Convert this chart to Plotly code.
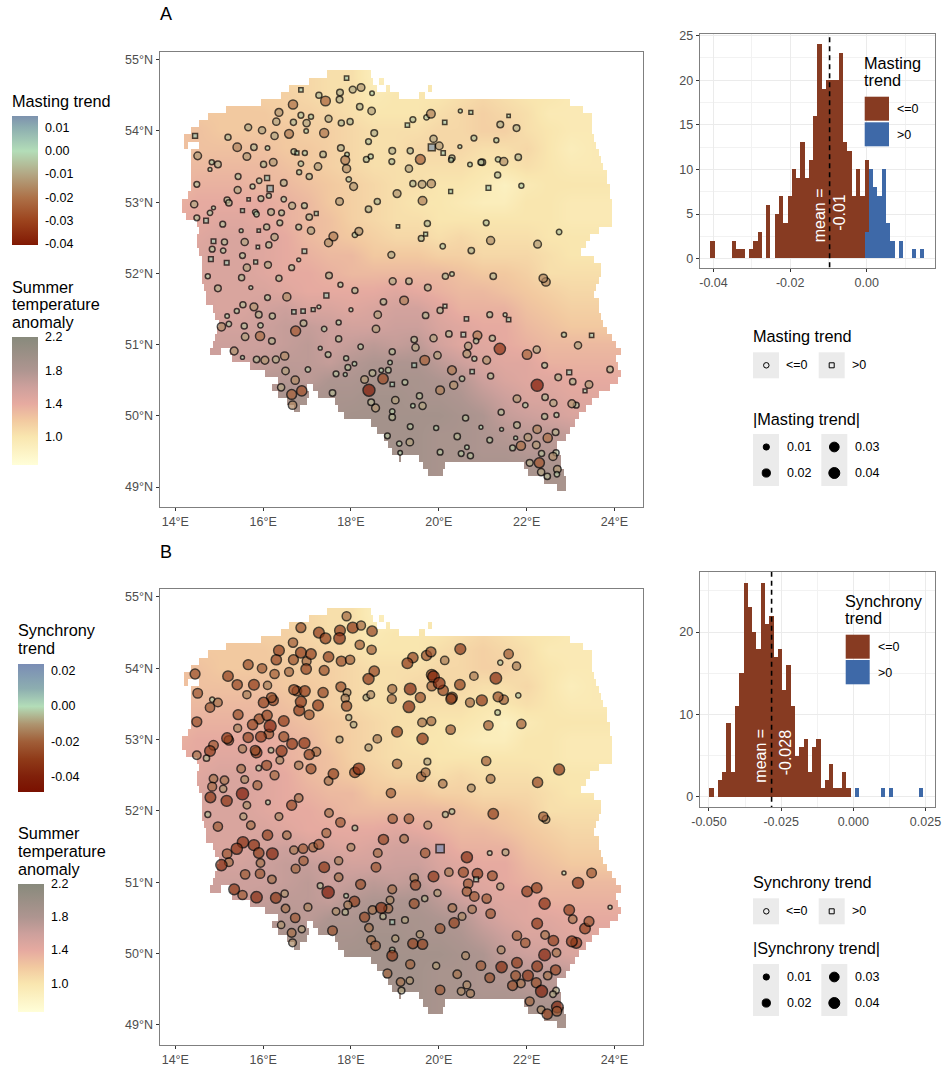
import math
import plotly.graph_objects as go

W, H = 944, 1067

# ---------- Summer temperature anomaly ----------
grid_lon = [14 + 0.5 * i for i in range(21)]
grid_lat = [55.0, 54.75, 54.5, 54.25, 54.0, 53.75, 53.5, 53.25, 53.0, 52.75, 52.5, 52.25, 52.0,
            51.75, 51.5, 51.25, 51.0, 50.75, 50.5, 50.25, 50.0, 49.75, 49.5, 49.25, 49.0]
anomaly = [
 [1.15,1.15,1.15,1.15,1.15,1.1,1.1,1.05,1.05,0.9,0.9,0.9,1.0,1.0,1.0,1.0,1.0,1.0,1.0,1.0,1.0],
 [1.15,1.15,1.15,1.15,1.15,1.1,1.1,1.05,1.05,0.9,0.9,0.9,1.0,1.0,1.0,1.0,1.0,1.0,1.0,1.0,1.0],
 [1.2,1.2,1.2,1.2,1.15,1.15,1.1,1.05,1.05,0.95,1.0,1.0,1.0,1.05,1.1,1.05,1.0,1.0,0.95,1.0,1.0],
 [1.2,1.2,1.2,1.2,1.2,1.15,1.15,1.1,1.05,1.0,1.0,1.0,1.05,1.1,1.15,1.1,1.05,0.95,0.95,0.95,0.95],
 [1.25,1.25,1.2,1.2,1.2,1.2,1.15,1.15,1.1,1.05,1.05,1.05,1.1,1.1,1.15,1.15,1.05,1.0,0.95,0.95,0.95],
 [1.25,1.25,1.25,1.25,1.25,1.2,1.2,1.15,1.1,1.05,1.05,1.1,1.1,1.1,1.05,1.05,1.1,1.0,0.9,0.95,0.95],
 [1.3,1.3,1.3,1.3,1.3,1.25,1.2,1.15,1.1,1.05,1.05,1.05,1.05,1.05,1.0,1.0,1.05,1.0,0.95,0.95,0.95],
 [1.3,1.35,1.35,1.35,1.3,1.3,1.25,1.2,1.15,1.1,1.05,1.05,1.0,1.0,0.95,0.85,0.95,1.0,1.0,1.0,1.0],
 [1.35,1.4,1.4,1.4,1.4,1.35,1.3,1.2,1.15,1.1,1.05,1.0,1.0,0.95,0.9,0.9,1.0,1.0,0.95,0.95,0.95],
 [1.4,1.4,1.45,1.45,1.4,1.35,1.3,1.25,1.15,1.1,1.05,1.05,1.0,1.0,1.0,1.0,1.0,1.0,0.95,0.95,0.95],
 [1.45,1.45,1.5,1.5,1.45,1.4,1.3,1.25,1.2,1.15,1.1,1.1,1.05,1.1,1.05,1.05,1.05,1.0,1.0,1.0,1.0],
 [1.5,1.5,1.5,1.5,1.45,1.4,1.35,1.3,1.3,1.2,1.2,1.2,1.15,1.15,1.1,1.1,1.1,1.05,1.0,1.0,1.0],
 [1.5,1.5,1.5,1.5,1.45,1.4,1.4,1.35,1.3,1.3,1.3,1.3,1.3,1.25,1.2,1.2,1.15,1.05,1.05,1.05,1.05],
 [1.5,1.5,1.5,1.5,1.5,1.45,1.4,1.4,1.4,1.4,1.45,1.4,1.35,1.3,1.3,1.25,1.2,1.15,1.1,1.1,1.1],
 [1.55,1.55,1.5,1.5,1.55,1.6,1.5,1.5,1.45,1.5,1.55,1.55,1.45,1.35,1.35,1.35,1.25,1.2,1.15,1.15,1.15],
 [1.6,1.6,1.55,1.55,1.6,1.65,1.65,1.6,1.55,1.55,1.6,1.6,1.5,1.45,1.4,1.4,1.3,1.25,1.2,1.2,1.2],
 [1.6,1.6,1.6,1.6,1.6,1.65,1.7,1.6,1.65,1.7,1.65,1.7,1.55,1.45,1.45,1.4,1.35,1.3,1.3,1.3,1.3],
 [1.6,1.6,1.6,1.6,1.65,1.7,1.7,1.65,1.75,1.8,1.8,1.8,1.7,1.6,1.5,1.45,1.45,1.35,1.35,1.35,1.35],
 [1.65,1.65,1.65,1.65,1.75,1.75,1.7,1.8,1.8,1.85,1.85,1.85,1.8,1.75,1.6,1.5,1.45,1.45,1.4,1.4,1.4],
 [1.75,1.75,1.75,1.75,1.75,1.85,1.85,1.85,1.85,1.9,1.9,1.85,1.85,1.8,1.7,1.6,1.5,1.5,1.45,1.45,1.45],
 [1.85,1.85,1.85,1.85,1.85,1.85,1.85,1.85,1.9,1.9,1.9,1.9,1.9,1.85,1.8,1.65,1.6,1.55,1.5,1.5,1.5],
 [1.85,1.85,1.85,1.85,1.85,1.85,1.85,1.9,1.9,1.9,1.9,1.9,1.85,1.85,1.8,1.75,1.7,1.7,1.65,1.65,1.65],
 [1.85,1.85,1.85,1.85,1.85,1.85,1.9,1.95,1.95,1.9,1.9,1.9,1.85,1.85,1.8,1.8,1.75,1.75,1.75,1.75,1.75],
 [1.85,1.85,1.85,1.85,1.85,1.85,1.9,1.95,1.95,1.9,1.9,1.9,1.85,1.85,1.85,1.85,1.85,1.85,1.85,1.85,1.85],
 [1.85,1.85,1.85,1.85,1.85,1.85,1.9,1.95,1.95,1.9,1.9,1.9,1.85,1.85,1.85,1.85,1.85,1.85,1.85,1.85,1.85],
]

# Land extent of each 0.1 degree raster row: latitude -> (west, east) longitude spans
land_rows = {
 54.8:[(17.45,18.44)], 54.7:[(17.07,18.51),(18.66,18.75)], 54.6:[(16.6,18.59),(18.82,18.89),(19.76,19.84)],
 54.5:[(16.42,19.12),(19.54,19.69)], 54.4:[(15.97,23.0)], 54.3:[(15.13,23.3)], 54.2:[(14.75,23.48)],
 54.1:[(14.56,23.51)], 54.0:[(14.37,23.52)], 53.9:[(14.18,23.54)], 53.8:[(14.22,14.3),(14.53,23.6)],
 53.7:[(14.33,23.64)], 53.6:[(14.33,23.71)], 53.5:[(14.37,23.75)], 53.4:[(14.37,23.83)], 53.3:[(14.37,23.86)],
 53.2:[(14.33,23.9)], 53.1:[(14.3,23.92)], 53.0:[(14.14,23.94)], 52.9:[(14.14,23.94)], 52.8:[(14.26,23.95)],
 52.7:[(14.49,23.95)], 52.6:[(14.56,23.64)], 52.5:[(14.52,23.45)], 52.4:[(14.52,23.33)], 52.3:[(14.56,23.26)],
 52.2:[(14.6,23.56)], 52.1:[(14.6,23.71)], 52.0:[(14.6,23.71)], 51.9:[(14.6,23.67)], 51.8:[(14.64,23.6)],
 51.7:[(14.68,23.56)], 51.6:[(14.72,23.64)], 51.5:[(14.83,23.67)], 51.4:[(14.9,23.71)], 51.3:[(14.98,23.75)],
 51.2:[(14.94,23.86)], 51.1:[(14.9,23.94)], 51.0:[(14.87,24.05)], 50.9:[(14.8,15.06),(15.25,24.17)],
 50.8:[(15.32,24.04)], 50.7:[(15.7,24.09)], 50.6:[(16.04,24.13)], 50.5:[(16.35,24.1)],
 50.4:[(16.2,17.0),(17.15,23.9)], 50.3:[(16.35,17.07),(17.26,23.67)], 50.2:[(16.55,17.0),(17.64,23.48)],
 50.1:[(16.69,16.84),(17.71,23.33)], 50.0:[(17.83,23.22)], 49.9:[(18.47,23.1)], 49.8:[(18.59,22.99)],
 49.7:[(18.74,22.88)], 49.6:[(18.85,22.72)], 49.5:[(18.93,22.69)], 49.4:[(19.08,19.13),(19.57,22.8)],
 49.3:[(19.65,20.16),(21.93,22.8)], 49.2:[(19.73,20.11),(22.04,22.84)], 49.1:[(22.38,22.92)], 49.0:[(22.69,22.92)],
}

# ---------- Masting trend per site: (lon, lat, trend) ----------
masting_nw = [
(14.45,53.93,.005),(14.51,53.65,-.012),(14.83,53.56,-.003),(14.79,53.46,-.001),(14.97,53.53,-.008),(15.2,53.91,-.006),
(15.41,53.77,-.016),(15.66,54.05,-.009),(15.79,53.77,-.007),(15.63,53.64,-.012),(15.975,54.01,-.01),(16.1,53.76,-.002),
(16.26,53.93,-.01),(16.01,53.53,-.006),(16.23,53.56,-.012),(15.43,53.36,-.005),(14.49,53.25,-.005),(14.43,52.97,-.01),
(14.49,52.78,-.005),(14.79,52.85,-.004),(14.87,52.92,-.001),(14.7,52.74,.004),(15.08,52.69,-.005),(15.18,53.03,-.006),
(15.22,52.99,-.007),(15.42,53.17,-.009),(15.76,53.22,-.003),(15.91,53.3,-.004),(16.09,53.34,.005),(16.16,53.19,.01),
(16.47,53.27,-.008),(16.13,53.09,-.003),(15.95,53.05,-.005),(16.47,53.04,-.004),(15.67,53.04,.001),(15.53,52.88,.002),
(15.82,52.86,-.004),(15.85,52.83,-.004),(16.18,52.86,-.008),(16.42,52.85,-.005),(16.66,52.95,-.009),(16.94,52.95,-.005),
(16.7,53.71,-.005),(16.77,53.69,.002),(16.95,53.69,-.003),(16.86,53.54,-.004),(16.82,53.42,-.003),(17.05,53.36,-.006),
(17.25,53.5,-.011),(17.365,53.67,-.007),(16.59,53.96,-.018),(17.39,53.97,-.019),(16.98,54.0,-.002),(16.3,54.13,-.01),
(16.69,54.12,-.006),(16.99,54.11,-.01),(17.49,54.17,-.009),(17.78,54.11,-.006),(17.98,54.13,-.006),(16.36,54.26,-.013),
(16.86,54.22,-.005),(17.09,54.2,-.003),(16.68,54.37,-.02),(16.86,54.575,.003),(17.27,54.5,-.006),(17.42,54.42,-.023),
(17.75,54.54,-.008),(17.74,54.44,-.008),(17.9,54.74,.003),(18.04,54.58,-.009),(18.23,54.61,-.012),(18.48,54.53,-.002),
(18.2,54.34,-.007),(18.47,54.28,-.011),(18.53,53.97,-.008),(18.4,53.85,-.005),(17.77,53.76,-.008),(17.91,53.67,-.002),
(17.87,53.59,-.018),(17.9,53.47,-.014),(18.35,53.6,-.005),(18.45,53.64,-.003),(17.95,53.32,-.004),(18.06,53.22,-.013),
(18.94,53.72,-.008),(18.93,53.57,-.005),(19.05,53.12,-.013),(18.6,53.01,-.006),(17.74,53.01,-.012),(18.4,52.9,-.007),
(17.05,52.79,-.007),(17.21,52.84,.002),(16.81,52.65,-.005),(17.09,52.6,-.01),(16.08,52.65,-.006),(16.38,52.71,-.005),
(15.5,52.6,-.001),(15.9,52.6,.001),(16.26,52.51,-.01),(15.58,52.44,-.01),(15.12,52.44,-.006),(14.87,52.45,.004),
(14.84,52.34,-.005),(15.09,52.32,-.004),(16.13,52.4,-.006),(15.88,52.37,.001),(15.53,52.25,-.005),(14.81,52.2,.004),
(15.17,52.15,.004),(15.83,52.16,.002),(15.63,52.08,-.01),(16.11,52.12,-.009),(16.65,52.08,-.005),(16.81,52.19,-.001),
(16.94,52.31,.004),(17.49,52.43,-.014),(17.6,52.52,-.018),(18.09,52.54,-.004),(18.18,52.59,-.013),(18.92,52.26,-.009),
(19.07,52.66,.001),(15.51,51.94,-.006),(14.74,51.96,-.003),(16.36,51.93,-.006),(17.5,51.97,-.008),
]
masting_sw = [
(14.97,51.79,-.008),(15.72,51.8,-.001),(16.1,51.66,-.005),(16.54,51.67,-.014),(17.76,51.84,-.003),(18.09,51.76,-.006),
(18.95,51.89,-.009),(17.44,51.69,.005),(18.74,51.6,-.007),(15.54,51.56,-.006),(15.79,51.53,-.013),(15.9,51.42,-.008),
(16.21,51.4,-.006),(15.18,51.4,-.002),(15.4,51.47,-.003),(16.7,51.46,.003),(16.91,51.47,.003),(17.14,51.49,.002),
(17.27,51.53,-.001),(18.0,51.49,-.001),(18.61,51.42,-.011),(15.22,51.29,-.004),(15.05,51.25,-.015),(15.57,51.26,-.006),
(15.94,51.27,-.004),(16.92,51.3,-.008),(16.74,51.19,-.025),(17.39,51.22,-.004),(17.72,51.31,-.003),(18.57,51.22,-.011),
(15.59,51.11,-.011),(15.93,51.12,-.02),(16.2,51.05,-.008),(17.72,51.08,-.006),(18.22,50.97,-.004),(17.3,50.95,-.001),
(17.48,50.86,-.005),(18.94,50.9,-.006),(15.34,50.91,-.013),(15.53,50.82,-.001),(15.85,50.79,-.007),(16.04,50.78,-.013),
(16.29,50.79,-.009),(16.49,50.84,-.015),(16.51,50.63,-.011),(17.02,50.65,-.004),(17.89,50.81,-.003),(18.08,50.73,-.002),
(17.93,50.68,-.005),(17.66,50.59,-.005),(17.87,50.58,-.001),(18.49,50.6,-.008),(18.69,50.64,-.002),(18.85,50.64,-.005),
(18.89,50.75,-.002),(18.31,50.51,-.012),(18.73,50.52,-.028),(18.94,50.44,.003),(18.41,50.36,-.04),(16.73,50.5,-.015),
(16.41,50.4,-.01),(16.65,50.3,-.024),(16.88,50.35,-.027),(16.67,50.15,-.016),(17.58,50.32,-.007),(18.46,50.19,-.008),
(18.56,50.11,-.013),(19.01,50.22,-.011),(18.94,50.06,-.004),(18.94,49.98,-.007),(18.83,49.72,-.005),(19.1,49.61,-.004),
(19.12,49.48,-.002),
]
masting_se = [
(19.32,51.89,-.007),(19.75,51.8,-.008),(20.15,51.96,-.006),(20.3,51.99,-.002),(21.24,51.96,-.007),(22.44,51.88,-.016),
(22.38,51.93,-.016),(19.21,51.62,-.017),(19.7,51.41,-.007),(20.03,51.48,-.006),(20.14,51.54,.002),(20.63,51.36,.003),
(21.16,51.42,-.005),(21.51,51.42,-.001),(21.59,51.35,.003),(20.23,51.15,-.007),(20.56,51.14,.004),(20.88,51.13,-.018),
(21.22,51.09,-.006),(19.44,51.07,-.007),(19.47,50.96,-.01),(19.88,51.09,-.01),(20.67,50.98,-.011),(20.85,51.05,-.004),
(20.64,50.87,-.013),(19.97,50.85,-.011),(20.81,50.8,-.003),(21.09,50.78,-.013),(21.39,50.94,-.034),(22.01,50.86,-.022),
(22.23,50.93,-.01),(22.85,51.14,-.003),(23.48,51.13,.003),(23.17,50.99,-.01),(22.41,50.71,-.005),(19.44,50.71,.004),
(19.68,50.78,-.023),(20.3,50.64,-.018),(20.76,50.62,.003),(20.53,50.52,-.004),(21.18,50.56,-.006),(20.34,50.43,-.014),
(20.03,50.36,-.017),(19.23,50.47,-.005),(19.56,50.28,-.006),(19.41,50.14,-.002),(19.63,50.14,-.01),(22.97,50.61,.005),
(22.72,50.54,-.008),(23.05,50.48,-.007),(23.9,50.65,-.007),(23.42,50.44,-.012),(23.33,50.35,.002),(22.24,50.43,-.04),
(21.78,50.24,-.012),(21.97,50.15,-.004),(22.42,50.26,-.007),(22.61,50.18,-.01),(23.13,50.15,-.005),(23.03,50.17,-.013),
(21.42,50.05,-.006),(22.41,49.99,-.006),(22.68,50.01,-.003),(20.61,49.97,-.006),(19.35,49.85,-.005),(19.94,49.83,-.003),
(20.96,49.84,-.001),(21.43,49.81,-.001),(21.78,49.87,-.008),(22.24,49.81,-.016),(22.66,49.77,-.008),(22.48,49.69,-.02),
(22.03,49.7,-.012),(21.75,49.69,-.001),(20.42,49.71,-.007),(21.16,49.66,-.005),(20.64,49.56,-.002),(19.34,49.63,-.011),
(22.22,49.59,-.012),(21.87,49.58,-.02),(21.68,49.55,-.005),(20.03,49.49,-.005),(20.51,49.47,-.005),(20.72,49.44,-.006),
(22.67,49.48,-.006),(22.34,49.47,-.006),(22.6,49.43,-.014),(22.07,49.34,-.009),(22.29,49.34,-.026),(22.33,49.21,-.01),
(22.7,49.25,-.012),(22.69,49.18,-.004),(22.47,49.15,-.007),
]
masting_ne = [
(19.41,54.16,-.005),(19.72,54.19,-.004),(19.82,54.24,-.017),(19.285,54.08,.003),(20.135,54.12,.003),(20.49,54.28,-.001),
(20.73,54.26,.002),(21.59,54.21,.001),(21.4,54.09,-.008),(21.77,54.04,-.008),(19.88,53.89,-.01),(20.01,53.79,-.012),
(19.84,53.77,.014),(20.1,53.69,.003),(20.8,53.9,-.005),(21.31,53.87,-.003),(20.48,53.78,-.001),(19.35,53.72,-.006),
(19.58,53.6,-.024),(20.3,53.62,-.006),(20.28,53.59,-.003),(20.71,53.53,-.002),(20.99,53.56,-.008),(20.96,53.56,-.006),
(21.35,53.6,-.004),(21.48,53.57,-.014),(21.81,53.63,-.007),(21.34,53.38,-.006),(19.32,53.47,-.01),(19.41,53.26,-.006),
(19.62,53.25,-.012),(19.83,53.26,-.015),(19.63,53.02,-.017),(20.27,53.15,.002),(21.13,53.2,.004),(21.88,53.23,-.003),
(19.74,52.7,-.006),(21.08,52.71,-.005),(19.6,52.49,-.005),(19.7,52.55,.002),(22.74,52.58,-.004),(21.18,52.46,-.014),
(22.25,52.41,-.012),(20.09,52.38,-.004),(20.74,52.32,-.007),
]

# ---------- Synchrony trend per site: (lon, lat, trend) ----------
synchrony_nw = [
(17.9,54.73,-.018),(16.86,54.57,-.024),(17.27,54.5,-.03),(17.42,54.42,-.03),(17.75,54.53,-.03),(17.74,54.42,-.036),
(18.04,54.57,-.032),(18.23,54.6,-.018),(18.48,54.52,-.027),(18.2,54.33,-.02),(18.47,54.26,-.02),(16.68,54.36,-.02),
(16.36,54.25,-.03),(16.3,54.12,-.027),(16.69,54.12,-.024),(16.99,54.1,-.018),(16.86,54.22,-.03),(17.09,54.2,-.028),
(16.98,53.99,-.028),(17.49,54.16,-.028),(17.78,54.1,-.025),(17.98,54.12,-.02),(16.59,53.95,-.018),(17.39,53.97,-.024),
(16.26,53.92,-.02),(15.975,54.0,-.021),(15.66,54.05,-.024),(15.2,53.89,-.028),(14.45,53.92,-.024),(18.53,53.96,-.027),
(18.4,53.85,-.032),(15.41,53.77,-.026),(15.79,53.77,-.03),(16.1,53.76,-.014),(15.63,53.63,-.014),(14.51,53.65,-.022),
(14.84,53.56,-.003),(14.97,53.52,-.017),(14.79,53.45,-.021),(16.23,53.55,-.026),(16.19,53.59,-.024),(16.01,53.52,-.028),
(16.77,53.68,-.022),(16.7,53.7,-.026),(16.95,53.68,-.03),(17.365,53.66,-.026),(17.91,53.66,-.012),(17.77,53.74,-.024),
(17.87,53.58,-.014),(17.9,53.47,-.026),(16.82,53.41,-.03),(16.86,53.53,-.032),(17.05,53.35,-.022),(17.25,53.48,-.03),
(18.35,53.59,-.007),(18.45,53.63,-.012),(18.94,53.71,-.018),(18.93,53.57,-.018),(17.95,53.31,-.005),(18.06,53.21,-.007),
(15.43,53.35,-.024),(14.49,53.25,-.024),(15.42,53.16,-.013),(15.91,53.29,-.025),(16.09,53.34,-.027),(15.76,53.21,-.027),
(16.13,53.08,-.022),(16.16,53.19,-.04),(15.95,53.04,-.03),(16.47,53.26,-.03),(16.47,53.04,-.024),(15.66,53.03,-.026),
(15.22,52.99,-.021),(15.18,53.02,-.03),(14.49,52.78,-.016),(14.87,52.92,-.022),(14.79,52.84,-.03),(14.71,52.74,-.006),
(15.53,52.87,-.014),(15.85,52.82,-.03),(15.82,52.85,-.024),(16.18,52.85,-.004),(16.42,52.84,-.032),(16.66,52.94,-.03),
(16.94,52.95,-.032),(17.21,52.83,-.018),(17.05,52.79,-.026),(16.38,52.71,-.012),(16.08,52.64,-.024),(15.5,52.59,-.016),
(15.9,52.6,-.004),(16.26,52.5,-.018),(16.81,52.64,-.015),(17.09,52.59,-.024),(17.74,53.0,-.008),(18.4,52.89,-.009),
(18.6,53.01,-.015),(19.05,53.11,-.03),(19.05,52.66,-.02),(17.49,52.42,-.016),(17.6,52.52,-.028),(18.09,52.54,-.028),
(18.18,52.59,-.036),(18.91,52.25,-.02),(14.87,52.45,-.016),(15.12,52.43,-.016),(14.84,52.34,-.018),(15.09,52.31,-.01),
(15.58,52.44,-.012),(15.87,52.36,-.018),(15.53,52.24,-.042),(14.8,52.19,-.03),(15.17,52.14,-.032),(15.63,52.08,-.011),
(16.11,52.12,-.002),(16.81,52.18,-.016),(16.65,52.08,-.025),(14.74,51.95,-.005),(15.55,51.92,-.009),(16.36,51.92,-.012),
(17.5,51.97,-.016),(14.97,51.78,-.02),(15.72,51.8,-.016),(17.76,51.84,-.021),(18.09,51.76,-.004),(18.95,51.89,-.02),
]
synchrony_ne = [
(19.41,54.15,-.027),(19.285,54.07,-.03),(19.72,54.18,-.025),(19.82,54.23,-.025),(20.135,54.11,-.015),(20.49,54.27,-.031),
(21.59,54.2,-.021),(21.4,54.08,-.003),(21.77,54.03,-.014),(21.3,53.86,-.036),(20.8,53.89,-.015),(19.84,53.91,-.03),
(19.88,53.88,-.037),(19.84,53.75,-.022),(20.1,53.69,-.027),(20.01,53.79,-.037),(20.48,53.77,-.028),(19.35,53.71,-.038),
(19.58,53.59,-.025),(20.3,53.59,-.03),(20.28,53.57,-.028),(20.71,53.52,-.018),(20.98,53.55,-.032),(21.48,53.56,-.02),
(21.35,53.6,-.024),(21.81,53.62,-.003),(21.34,53.38,-.004),(19.32,53.46,-.037),(19.62,53.24,-.017),(19.83,53.26,-.018),
(20.27,53.14,-.021),(21.13,53.2,-.021),(21.88,53.22,-.02),(19.63,53.01,-.033),(19.74,52.69,-.008),(21.08,52.7,-.02),
(19.6,52.48,-.02),(19.7,52.54,-.018),(22.74,52.58,-.032),(21.18,52.45,-.017),(22.25,52.4,-.026),(20.09,52.38,-.016),
(20.74,52.32,-.012),(20.15,51.95,-.005),(20.3,51.99,-.004),(21.24,51.96,-.028),(22.44,51.88,-.012),(22.38,51.92,-.02),
(19.32,51.89,-.021),(19.75,51.8,-.012),
]
synchrony_se = [
(19.21,51.61,-.016),(19.69,51.41,-.021),(20.03,51.47,.023),(20.64,51.35,-.033),(21.16,51.41,-.002),(21.52,51.42,-.008),
(20.23,51.14,-.015),(20.56,51.14,-.025),(20.88,51.12,-.028),(20.85,51.04,.004),(21.22,51.09,-.023),(19.44,51.06,-.015),
(19.47,50.96,-.026),(19.88,51.08,-.03),(20.67,50.98,-.021),(19.97,50.85,-.009),(19.68,50.77,-.006),(19.44,50.7,-.024),
(20.64,50.87,-.02),(20.81,50.8,-.021),(21.09,50.77,-.02),(21.4,50.94,-.009),(22.01,50.87,-.028),(22.23,50.92,-.028),
(22.85,51.13,-.001),(23.48,51.13,-.022),(23.17,50.99,-.032),(22.41,50.7,-.034),(20.31,50.64,-.016),(20.76,50.62,-.015),
(20.53,50.52,-.012),(21.18,50.56,-.021),(20.35,50.43,-.027),(20.03,50.35,-.022),(19.23,50.47,-.008),(19.57,50.27,-.01),
(19.41,50.14,-.027),(19.63,50.13,-.027),(23.9,50.65,-.001),(22.97,50.61,-.029),(23.05,50.48,-.016),(23.33,50.35,-.029),
(23.42,50.45,-.024),(22.24,50.42,-.03),(21.78,50.25,-.02),(21.97,50.15,-.021),(22.42,50.26,-.016),(22.61,50.18,-.028),
(23.13,50.15,-.031),(23.03,50.17,-.03),(21.42,50.05,-.012),(22.41,49.98,-.038),(22.68,50.01,-.016),(20.61,49.97,-.012),
(19.35,49.85,-.019),(19.94,49.83,-.009),(20.96,49.83,-.021),(21.43,49.81,-.034),(21.78,49.87,-.029),(22.24,49.82,-.03),
(22.66,49.77,-.026),(22.48,49.69,-.016),(22.03,49.69,-.031),(21.75,49.69,-.023),(20.42,49.71,-.016),(21.16,49.66,-.023),
(20.64,49.56,-.012),(19.34,49.62,-.01),(19.13,49.6,-.016),(22.22,49.59,-.024),(21.87,49.58,-.016),(21.68,49.55,-.024),
(20.03,49.49,-.021),(20.51,49.47,-.012),(20.72,49.44,-.014),(22.34,49.47,-.04),(22.67,49.48,-.007),(22.6,49.43,-.007),
(22.07,49.33,-.018),(22.7,49.25,-.037),(22.33,49.21,-.012),(22.69,49.19,-.022),(22.47,49.15,-.027),(19.15,49.48,-.008),
]
synchrony_sw = [
(16.1,51.66,-.027),(16.54,51.66,-.016),(17.44,51.69,-.018),(18.74,51.6,-.026),(15.54,51.56,-.034),(15.79,51.52,-.032),
(15.4,51.47,-.034),(15.18,51.4,-.022),(15.9,51.41,-.028),(16.21,51.4,-.037),(16.7,51.45,-.015),(16.91,51.47,-.02),
(17.14,51.49,-.018),(17.27,51.53,-.023),(18.0,51.49,-.012),(18.61,51.41,-.017),(15.22,51.28,-.017),(15.05,51.24,-.034),
(15.94,51.27,-.016),(16.92,51.3,-.02),(16.74,51.19,-.018),(17.39,51.21,-.03),(17.72,51.3,-.014),(18.57,51.21,-.022),
(15.59,51.11,-.021),(15.93,51.12,-.021),(16.2,51.04,-.016),(17.72,51.07,-.016),(18.22,50.97,-.024),(17.3,50.95,-.005),
(17.48,50.86,-.042),(18.94,50.9,-.017),(15.34,50.9,-.03),(15.53,50.82,-.02),(15.85,50.79,-.035),(16.29,50.78,-.03),
(16.49,50.84,-.01),(16.51,50.63,-.016),(17.02,50.65,-.013),(17.89,50.81,-.002),(18.08,50.73,-.028),(17.93,50.68,-.014),
(17.66,50.59,-.011),(17.87,50.58,-.006),(18.49,50.61,-.016),(18.85,50.63,-.018),(18.69,50.64,-.032),(18.89,50.75,-.012),
(18.31,50.51,-.025),(18.73,50.52,-.006),(18.94,50.44,.004),(18.41,50.36,-.016),(16.73,50.5,-.021),(16.41,50.4,-.01),
(16.65,50.29,-.017),(16.88,50.34,-.009),(16.67,50.15,-.012),(17.58,50.32,-.022),(18.46,50.19,-.017),(18.56,50.11,-.022),
(19.01,50.21,-.009),(18.94,50.05,-.004),(18.94,49.97,-.03),(18.83,49.72,-.018),
]

# ---------- Histograms ----------
masting_bin_start, masting_bin_width = -0.04087, 0.001117
masting_neg = [2,0,0,0,0,2,1,1,0,1,2,3,0,6,0,5,7,4,7,10,9,13,9,11,16,24,19,20,20,20,23,13,12,7,10,7,8]
masting_pos = [0]*36 + [3,10,8,7,10,4,2,0,2,0,0,1,0,1]
masting_mean = -0.0097
synchrony_bin_start, synchrony_bin_width = -0.05, 0.001484
synchrony_neg = [1,0,2,3,9,3,11,15,26,23,20,18,26,21,22,17,18,13,16,11,5,6,7,3,6,7,1,2,4,1,1,3,1]
synchrony_pos = [0]*34 + [1,0,0,0,0,0,1,0,1,0,0,0,0,0,0,1]
synchrony_mean = -0.0283

lon_ticks, lon_text = [14,16,18,20,22,24], ["14°E","16°E","18°E","20°E","22°E","24°E"]
lat_ticks, lat_text = [49,50,51,52,53,54,55], ["49°N","50°N","51°N","52°N","53°N","54°N","55°N"]
size_breaks = [0.01, 0.02, 0.03, 0.04]
masting_bar_ticks = [0.01, 0, -0.01, -0.02, -0.03, -0.04]
masting_bar_text = ["0.01", "0.00", "-0.01", "-0.02", "-0.03", "-0.04"]
synchrony_bar_ticks = [0.02, 0, -0.02, -0.04]
synchrony_bar_text = ["0.02", "0.00", "-0.02", "-0.04"]
temp_bar_ticks = [2.2, 1.8, 1.4, 1.0]
temp_bar_text = ["2.2", "1.8", "1.4", "1.0"]

# ---------- Styles ----------
FONT = "Liberation Sans"
GREY = "#4D4D4D"
FRAME = "#7F7F7F"
BROWN, BLUE = "#873B22", "#3E69A8"
temp_min, temp_max = 0.66, 2.2
temp_scale = [[0,"#FFFED8"],[0.22,"#F9E6AF"],[0.35,"#F2C9A0"],[0.48,"#E6AAA0"],[0.61,"#CDA09C"],[0.74,"#AE9590"],[1,"#888A7C"]]
masting_stops = [(-.0403,"#7A1000"),(-.04,"#821A04"),(-.03,"#9C431D"),(-.02,"#AD7148"),(-.01,"#B3A683"),(0,"#B3DDB8"),(.01,"#8DAEB0"),(.015,"#7D92AE")]
synchrony_stops = [(-.0485,"#7A1000"),(-.04,"#80200A"),(-.03,"#8F3A18"),(-.02,"#A05E38"),(-.01,"#AE9570"),(0,"#B3DDB8"),(.01,"#8DAEB0"),(.024,"#7A8DB5")]

def trend_scale(stops):
    lo, hi = stops[0][0], stops[-1][0]
    return [[(v-lo)/(hi-lo), c] for v, c in stops]

def fx(px): return px / W
def fy(py): return 1 - py / H

fig = go.Figure()
annotations, shapes = [], []

def text(px, py, s, size=12.5, color="black", anchor="left", angle=0):
    annotations.append(dict(x=fx(px), y=fy(py), xref="paper", yref="paper", text=s, showarrow=False,
                            xanchor=anchor, yanchor="middle", textangle=angle, align="left", borderpad=0, borderwidth=0,
                            xshift=-0.5 if anchor == "left" else 0,
                            font=dict(family=FONT, size=size, color=color)))

def rect(x0, y0, x1, y1, fill, line=None):
    shapes.append(dict(type="rect", xref="paper", yref="paper", x0=fx(x0), x1=fx(x1), y0=fy(y0), y1=fy(y1),
                       fillcolor=fill, line=dict(width=0 if line is None else 1, color=line or fill)))

def glyph(kind, cx, cy, d, fill, lw):
    shapes.append(dict(type=kind, xref="paper", yref="paper", x0=fx(cx-d/2), x1=fx(cx+d/2), y0=fy(cy-d/2), y1=fy(cy+d/2),
                       fillcolor=fill, line=dict(width=lw, color="black")))

def hline(x0, x1, y, color="rgba(255,255,255,0.75)"):
    shapes.append(dict(type="line", xref="paper", yref="paper", x0=fx(x0), x1=fx(x1), y0=fy(y), y1=fy(y), line=dict(width=0.8, color=color)))

# Land mask: everything that is not in land_rows is painted white over the smooth raster
mask_lon = [round(13.6 + 0.05*i + 0.025, 3) for i in range(222)]
mask_lat = [round(55.1 - 0.1*i, 1) for i in range(65)]
mask_z = []
for la in mask_lat:
    spans = land_rows.get(la, [])
    mask_z.append([None if any(a <= lo <= b for a,b in spans) else 1 for lo in mask_lon])

def colorbar(x, y, length, vals, labels, lo, hi):
    # Bar without its own ticks; ticks on both sides and labels sit beside it, placed from the bar's value range
    for v, s in zip(vals, labels):
        py = y + (hi - v) / (hi - lo) * length
        hline(x, x+5, py); hline(x+20.7, x+25.7, py)
        text(x+33.7, py, s)
    return dict(x=fx(x), xanchor="left", xref="paper", y=fy(y), yanchor="top", yref="paper",
                lenmode="pixels", len=length, thicknessmode="pixels", thickness=25.7, outlinewidth=0, borderwidth=0,
                xpad=0, ypad=0, showticklabels=False, ticks="")

def add_map(axis, sites, stops, trend_bar, temp_bar, size0, sizeref):
    xa, ya = ("x"+axis, "y"+axis)
    fig.add_trace(go.Heatmap(x=grid_lon, y=grid_lat, z=anomaly, xaxis=xa, yaxis=ya, zsmooth="best", zmin=temp_min, zmax=temp_max,
                             colorscale=temp_scale, colorbar=temp_bar, hoverinfo="skip"))
    fig.add_trace(go.Heatmap(x=mask_lon, y=mask_lat, z=mask_z, xaxis=xa, yaxis=ya, zmin=0, zmax=1, showscale=False,
                             colorscale=[[0,"white"],[1,"white"]], hoverinfo="skip"))
    lon = [s[0] for s in sites]; lat = [s[1] for s in sites]; tr = [s[2] for s in sites]
    sizes = [(size0 + 9.5*math.sqrt(abs(t)/sizeref)) * (0.85 if t > 0 else 1) for t in tr]
    symbols = ["square" if t > 0 else "circle" for t in tr]
    fig.add_trace(go.Scatter(x=lon, y=lat, xaxis=xa, yaxis=ya, mode="markers", hoverinfo="skip",
                             marker=dict(size=sizes, symbol=symbols, color=tr, cmin=stops[0][0], cmax=stops[-1][0], colorscale=trend_scale(stops),
                                         showscale=True, colorbar=trend_bar, line=dict(color="black", width=1.5))))

add_map("", masting_nw+masting_sw+masting_se+masting_ne, masting_stops,
        colorbar(12, 116, 129, masting_bar_ticks, masting_bar_text, -0.0403, 0.015),
        colorbar(12, 337.3, 128.4, temp_bar_ticks, temp_bar_text, temp_min, temp_max), 2.4, 0.04)
add_map("2", synchrony_nw+synchrony_sw+synchrony_se+synchrony_ne, synchrony_stops,
        colorbar(18, 664, 128, synchrony_bar_ticks, synchrony_bar_text, -0.0485, 0.024),
        colorbar(18, 884, 128, temp_bar_ticks, temp_bar_text, temp_min, temp_max), 2.6, 0.042)

def add_hist(axis, start, width, neg, pos, mean, ytop):
    xa, ya = "x"+axis, "y"+axis
    cx = lambda n: [start + width*(k+0.5) for k in range(n)]
    fig.add_trace(go.Bar(x=cx(len(pos)), y=pos, width=width, xaxis=xa, yaxis=ya, marker=dict(color=BLUE, line=dict(width=0)), hoverinfo="skip", showlegend=False))
    fig.add_trace(go.Bar(x=cx(len(neg)), y=neg, width=width, xaxis=xa, yaxis=ya, marker=dict(color=BROWN, line=dict(width=0)), hoverinfo="skip", showlegend=False))
    fig.add_trace(go.Scatter(x=[mean,mean], y=[-5,ytop+5], xaxis=xa, yaxis=ya, mode="lines", hoverinfo="skip", showlegend=False,
                             line=dict(color="black", width=1.6, dash="5px,4px")))

add_hist("3", masting_bin_start, masting_bin_width, masting_neg, masting_pos, masting_mean, 25)
add_hist("4", synchrony_bin_start, synchrony_bin_width, synchrony_neg, synchrony_pos, synchrony_mean, 27)

# Headings
text(160, 14, "A", 18); text(160, 552, "B", 18)

# Colour bar titles
text(12.5, 101, "Masting trend", 16.3)
for y, s in zip([286.7,304.3,322.3], ["Summer","temperature","anomaly"]): text(12.5, y, s, 16.3)
for y, s in zip([630,648], ["Synchrony","trend"]): text(18, y, s, 16.3)
for y, s in zip([833,851,869], ["Summer","temperature","anomaly"]): text(18, y, s, 16.3)

# Histogram annotations and legends
text(819.3, 215, "mean =", 16, "white", "center", -90)
text(840, 212.7, "-0.01", 16, "white", "center", -90)
text(761, 755.7, "mean =", 16, "white", "center", -90)
text(785, 753.3, "-0.028", 16, "white", "center", -90)

text(864.3, 63.3, "Masting", 16.3); text(864.3, 80, "trend", 16.3)
rect(864.7, 96.7, 889, 120.7, BROWN); rect(864.7, 122.3, 889, 146.3, BLUE)
text(897.7, 109.3, "<=0"); text(897.7, 135, ">0")
text(845, 600.7, "Synchrony", 16.3); text(845, 618.3, "trend", 16.3)
rect(845.7, 634.7, 869.7, 658.7, BROWN); rect(845.7, 660, 869.7, 684.3, BLUE)
text(878.3, 646.7, "<=0"); text(878.3, 672.7, ">0")

# Shape and size legends
def side_legends(name, y_title, y_key, y_title2, y_row1):
    text(753.3, y_title, name, 16.3)
    rect(753, y_key-13, 779, y_key+13, "#EBEBEB"); rect(818.7, y_key-13, 844.7, y_key+13, "#EBEBEB")
    glyph("circle", 766.3, y_key, 5.5, "rgba(0,0,0,0)", 1)
    glyph("rect", 831.7, y_key, 5, "rgba(0,0,0,0)", 1)
    text(786.7, y_key, "<=0"); text(852.3, y_key, ">0")
    text(753.3, y_title2, "|" + name + "|", 16.3)
    y_row2 = y_row1 + 26
    rect(753, y_row1-13, 779, y_row2+13, "#EBEBEB"); rect(821.3, y_row1-13, 847.3, y_row2+13, "#EBEBEB")
    for v, cx, cy, lx in zip(size_breaks, [766.3,766.3,834.3,834.3], [y_row1,y_row2,y_row1,y_row2], [787.3,787.3,855.7,855.7]):
        d = 2.5 + 9.5*math.sqrt(v/0.04)
        glyph("circle", cx, cy, d-1, "black", 1)
        text(lx, cy, f"{v:.2f}")

side_legends("Masting trend", 336, 365.3, 419.3, 447)
side_legends("Synchrony trend", 882, 911.3, 948, 977)

def axis(dom, rng, **kw):
    d = dict(domain=dom, range=rng, showgrid=False, zeroline=False, showline=True, mirror=True, linecolor=FRAME, linewidth=1,
             ticks="outside", ticklen=3, tickcolor="#333333", tickwidth=1, tickfont=dict(family=FONT, size=12.5, color=GREY))
    d.update(kw); return d

def hist_grid(minor):
    return dict(showgrid=True, gridcolor="#EBEBEB", gridwidth=1.2,
                minor=dict(tickvals=minor, showgrid=True, gridcolor="#F2F2F2", gridwidth=0.7, ticks=""))

fig.update_layout(
    width=W, height=H, margin=dict(l=0, r=0, t=0, b=0, autoexpand=False), paper_bgcolor="white", plot_bgcolor="white",
    showlegend=False, barmode="stack", bargap=0, annotations=annotations, shapes=shapes,
    xaxis=axis([fx(159.5),fx(643)], [13.64,24.65], tickvals=lon_ticks, ticktext=lon_text, anchor="y"),
    yaxis=axis([fy(507),fy(51.5)], [48.72,55.115], tickvals=lat_ticks, ticktext=lat_text, anchor="x"),
    xaxis2=axis([fx(159.5),fx(643)], [13.64,24.65], tickvals=lon_ticks, ticktext=lon_text, anchor="y2"),
    yaxis2=axis([fy(1045),fy(589)], [48.717,55.112], tickvals=lat_ticks, ticktext=lat_text, anchor="x2"),
    xaxis3=axis([fx(699.7),fx(935)], [-0.0436,0.0178], tickvals=[-0.04,-0.02,0], ticktext=["-0.04","-0.02","0.00"], anchor="y3",
                **hist_grid([-0.03,-0.01,0.01])),
    yaxis3=axis([fy(268.3),fy(34.3)], [-1.08,25.15], tickvals=[0,5,10,15,20,25], ticktext=["0","5","10","15","20","25"], anchor="x3",
                **hist_grid([2.5,7.5,12.5,17.5,22.5])),
    xaxis4=axis([fx(699.7),fx(935)], [-0.0532,0.0283], tickvals=[-0.05,-0.025,0,0.025], ticktext=["-0.050","-0.025","0.000","0.025"], anchor="y4",
                **hist_grid([-0.0375,-0.0125,0.0125])),
    yaxis4=axis([fy(807),fy(572)], [-1.25,27.3], tickvals=[0,10,20], ticktext=["0","10","20"], anchor="x4",
                **hist_grid([5,15,25])),
)
for la in ("xaxis","xaxis2","xaxis3","xaxis4","yaxis","yaxis2","yaxis3","yaxis4"):
    fig.layout[la].layer = "above traces"

fig.write_html("out.html", post_script="document.body.style.margin='0';", config={"displayModeBar": False})
